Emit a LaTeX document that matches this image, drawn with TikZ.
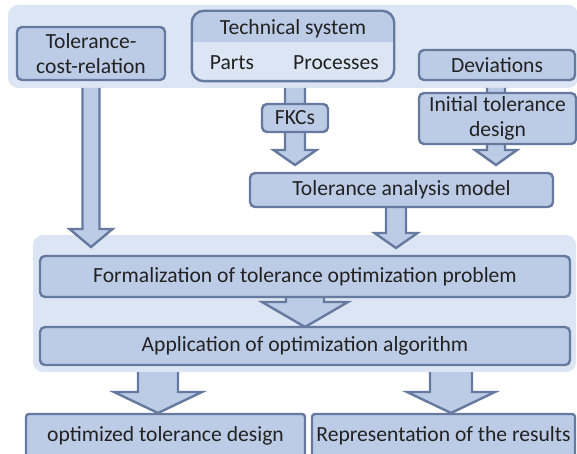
\documentclass[tikz,border=0pt]{standalone}
\usepackage{fontspec}
\setmainfont{Carlito}
\usetikzlibrary{calc}
\definecolor{panelc}{HTML}{DCE5F3}
\definecolor{boxc}{HTML}{BCCBE6}
\definecolor{linec}{HTML}{66799F}
\definecolor{txtc}{HTML}{222222}
\tikzset{
  every node/.style={text=txtc,font=\fontsize{21.6}{25}\selectfont},
  panel/.style={fill=panelc,draw=none,rounded corners=10},
  box/.style={draw=linec,fill=boxc,line width=2.4pt,rounded corners=5,inner sep=0pt,align=center},
  arrfill/.style={fill=boxc},
  arrline/.style={draw=linec,line width=2.4pt,line join=miter},
  plain/.style={inner sep=0pt}
}
\newcommand\blockarrow[5]{%
  \fill[arrfill] let \p1=(#1),\p2=(#2) in (\x1-#3pt,\y1) -- (\x1-#3pt,\y2+#5pt) -- (\x1-#4pt,\y2+#5pt) -- (\x1,\y2) -- (\x1+#4pt,\y2+#5pt) -- (\x1+#3pt,\y2+#5pt) -- (\x1+#3pt,\y1) -- cycle;
  \draw[arrline] let \p1=(#1),\p2=(#2) in (\x1-#3pt,\y1) -- (\x1-#3pt,\y2+#5pt) -- (\x1-#4pt,\y2+#5pt) -- (\x1,\y2) -- (\x1+#4pt,\y2+#5pt) -- (\x1+#3pt,\y2+#5pt) -- (\x1+#3pt,\y1);}
\begin{document}
\begin{tikzpicture}[x=1pt,y=-1pt]
\useasboundingbox (0,0) rectangle (577,454);
\clip (0,0) rectangle (577,454);
% panels
\path[panel] (8,5) rectangle (578,88);
\path[panel] (33,235) rectangle (576,372);
% arrow coordinates
\coordinate (a1s) at (91,88);  \coordinate (a1t) at (91,247);
\coordinate (a2s) at (295,88); \coordinate (a2t) at (295,165);
\coordinate (a3s) at (496,88); \coordinate (a3t) at (496,165);
\coordinate (a4s) at (396,205); \coordinate (a4t) at (396,248);
\coordinate (a5s) at (305,295); \coordinate (a5t) at (305,327);
\coordinate (a6s) at (158,372); \coordinate (a6t) at (158,413);
\coordinate (a7s) at (451,372); \coordinate (a7t) at (451,413);
\blockarrow{a1s}{a1t}{8.5}{21.5}{18}
\blockarrow{a2s}{a2t}{10}{21.5}{15}
\blockarrow{a3s}{a3t}{9}{21}{15}
\blockarrow{a4s}{a4t}{10}{21.5}{15}
\blockarrow{a5s}{a5t}{19}{43}{25}
\blockarrow{a6s}{a6t}{20}{44}{21}
\blockarrow{a7s}{a7t}{21}{44}{21}
% boxes
\node[box,minimum width=148pt,minimum height=53pt] (tcr) at (91,53.5) {Tolerance-\\cost-relation};
\node[box,draw=none,fill=panelc,rounded corners=12,minimum width=200pt,minimum height=68pt] (tech) at (293,46) {};
\begin{scope}
  \clip[rounded corners=12] (tech.north west) rectangle (tech.south east);
  \fill[boxc] (tech.north west) rectangle ($(tech.north east)+(0,31)$);
\end{scope}
\draw[draw=linec,line width=2.4pt,rounded corners=12] (tech.north west) rectangle (tech.south east);
\node[plain] (techT) at (293,29) {Technical system};
\node[plain] (parts) at (232,63) {Parts};
\node[plain] (proc) at (336,63) {Processes};
\node[box,minimum width=156pt,minimum height=30pt] (dev) at (497,65) {Deviations};
\node[box,minimum width=157pt,minimum height=51pt] (init) at (497.5,118.5) {Initial tolerance\\design};
\node[box,minimum width=66pt,minimum height=28pt] (fkc) at (295,118) {FKCs};
\node[box,minimum width=303pt,minimum height=34pt] (tam) at (401.5,190) {Tolerance analysis model};
\node[box,minimum width=530pt,minimum height=41pt] (form) at (305,276.5) {Formalization of tolerance optimization problem};
\node[box,minimum width=530pt,minimum height=38pt] (app) at (305,346) {Application of optimization algorithm};
\node[box,rounded corners=3,minimum width=279pt,minimum height=44pt] (opt) at (165.5,436) {optimized tolerance design};
\node[box,rounded corners=3,minimum width=263pt,minimum height=44pt] (rep) at (443.5,436) {Representation of the results};
\end{tikzpicture}
\end{document}
